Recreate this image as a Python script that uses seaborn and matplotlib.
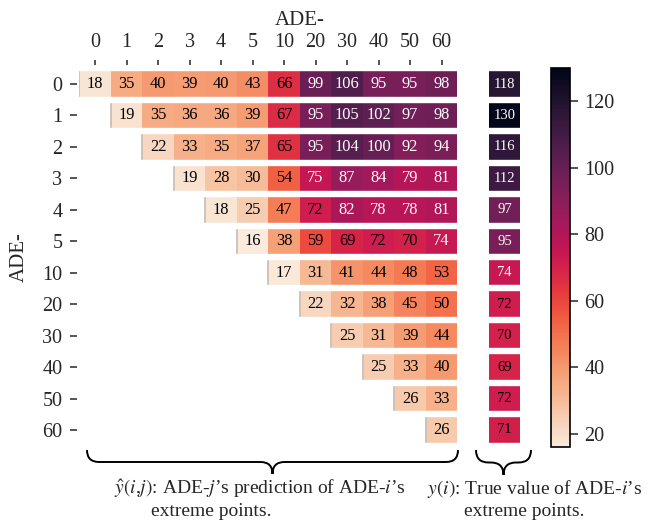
import numpy as np
import pandas as pd
import matplotlib
matplotlib.use('Agg')
import matplotlib.pyplot as plt
from matplotlib.path import Path
from matplotlib.patches import PathPatch
import seaborn as sns

# ADE windows (rows = ADE-i, columns = ADE-j)
ade = [0, 1, 2, 3, 4, 5, 10, 20, 30, 40, 50, 60]

# predictions y_hat(i, j), upper triangle only (j >= i)
pred_0 = [18, 35, 40, 39, 40, 43, 66, 99, 106, 95, 95, 98]
pred_1 = [19, 35, 36, 36, 39, 67, 95, 105, 102, 97, 98]
pred_2 = [22, 33, 35, 37, 65, 95, 104, 100, 92, 94]
pred_3 = [19, 28, 30, 54, 75, 87, 84, 79, 81]
pred_4 = [18, 25, 47, 72, 82, 78, 78, 81]
pred_5 = [16, 38, 59, 69, 72, 70, 74]
pred_10 = [17, 31, 41, 44, 48, 53]
pred_20 = [22, 32, 38, 45, 50]
pred_30 = [25, 31, 39, 44]
pred_40 = [25, 33, 40]
pred_50 = [26, 33]
pred_60 = [26]
pred_rows = [pred_0, pred_1, pred_2, pred_3, pred_4, pred_5,
             pred_10, pred_20, pred_30, pred_40, pred_50, pred_60]

# true values y(i)
true_vals = [118, 130, 116, 112, 97, 95, 74, 72, 70, 69, 72, 71]

# =============================================================================
# build the table: 12 prediction columns, one empty column, the true column
# =============================================================================
n = len(ade)
mat = np.full((n, n + 2), np.nan)
for i, row in enumerate(pred_rows):
    mat[i, i:n] = row
mat[:, n + 1] = true_vals
cols = [str(a) for a in ade] + ['', 'y']
df = pd.DataFrame(mat, index=[str(a) for a in ade], columns=cols)
mask = df.isna()

sns.set_style('white')
plt.rcParams['font.family'] = 'serif'
plt.rcParams['font.serif'] = ['Liberation Serif', 'DejaVu Serif']
plt.rcParams['mathtext.fontset'] = 'stix'

W, H = 652, 529
fig = plt.figure(figsize=(W / 100, H / 100), dpi=100)
ax = fig.add_axes([79.3 / W, 1 - 445.7 / H, 441 / W, 377.4 / H])
cax = fig.add_axes([551 / W, 1 - 447 / H, 19 / W, 379 / H])

sns.heatmap(df, mask=mask, annot=True, fmt='.0f', cmap='rocket_r',
            vmin=16, vmax=130, ax=ax, cbar_ax=cax,
            annot_kws={'fontsize': 11.8})

# text colour: dark on light cells, white on dark ones; smaller in true column
for t in ax.texts:
    x, y = t.get_position()
    t.set_color('white' if float(t.get_text()) >= 73 else 'black')
    if x > n + 1:
        t.set_fontsize(10.5)

# faint grey edge at the start of each row, then white gaps between rows
ax.vlines(np.arange(n), np.arange(n), np.arange(n) + 1, color='#c9c0b8', lw=1.3)
ax.hlines(np.arange(n + 1), 0, n + 2, color='white', lw=4.6)

ax.xaxis.tick_top()
ax.xaxis.set_label_position('top')
ax.set_xticks(np.arange(n) + 0.5)
ax.set_xticklabels(ade)
ax.set_yticks(np.arange(n) + 0.5)
ax.set_yticklabels(ade, rotation=0)
ax.set_xlabel('ADE-', fontsize=15, labelpad=6)
ax.set_ylabel('ADE-', fontsize=15, labelpad=10)
ax.spines['top'].set_position(('outward', 2.4))
ax.spines['left'].set_position(('outward', 1.7))
ax.tick_params(axis='x', top=True, length=3.6, width=1.1, pad=5.5, labelsize=14.5)
ax.tick_params(axis='y', left=True, length=5, width=1.1, pad=5.5, labelsize=14.5)

# colorbar
cbar = ax.collections[0].colorbar
cbar.set_ticks([20, 40, 60, 80, 100, 120])
cbar.outline.set_linewidth(1.2)
cbar.outline.set_edgecolor('black')
cax.tick_params(right=True, length=5.5, width=1.1, labelsize=14.5, pad=5)


# =============================================================================
# braces and captions below
# =============================================================================
def brace(x0, x1, top, tip):
    mid = (top + tip) / 2
    xm = (x0 + x1) / 2
    r = (tip - top) / 2
    pts = [(x0, top), (x0, mid), (x0 + r, mid), (xm - r, mid), (xm, mid), (xm, tip),
           (xm, mid), (xm + r, mid), (x1 - r, mid), (x1, mid), (x1, top)]
    codes = [Path.MOVETO, Path.CURVE3, Path.CURVE3, Path.LINETO, Path.CURVE3, Path.CURVE3,
             Path.CURVE3, Path.CURVE3, Path.LINETO, Path.CURVE3, Path.CURVE3]
    pts = [(px / W, 1 - py / H) for px, py in pts]
    fig.patches.append(PathPatch(Path(pts, codes), transform=fig.transFigure,
                                 fill=False, lw=1.4, color='black'))


brace(87, 458, 450, 474)
brace(476, 531, 450, 475)

fig.text(260 / W, 1 - 488.5 / H, r'$\hat{y}(i{,}j)$: ADE-$j$’s prediction of ADE-$i$’s',
         ha='center', va='center', fontsize=14)
fig.text(211 / W, 1 - 511 / H, 'extreme points.', ha='center', va='center', fontsize=14)
fig.text(535 / W, 1 - 488.5 / H, r'$y(i)$: True value of ADE-$i$’s',
         ha='center', va='center', fontsize=14)
fig.text(524.5 / W, 1 - 511 / H, 'extreme points.', ha='center', va='center', fontsize=14)

plt.savefig('out.png', dpi=100)
